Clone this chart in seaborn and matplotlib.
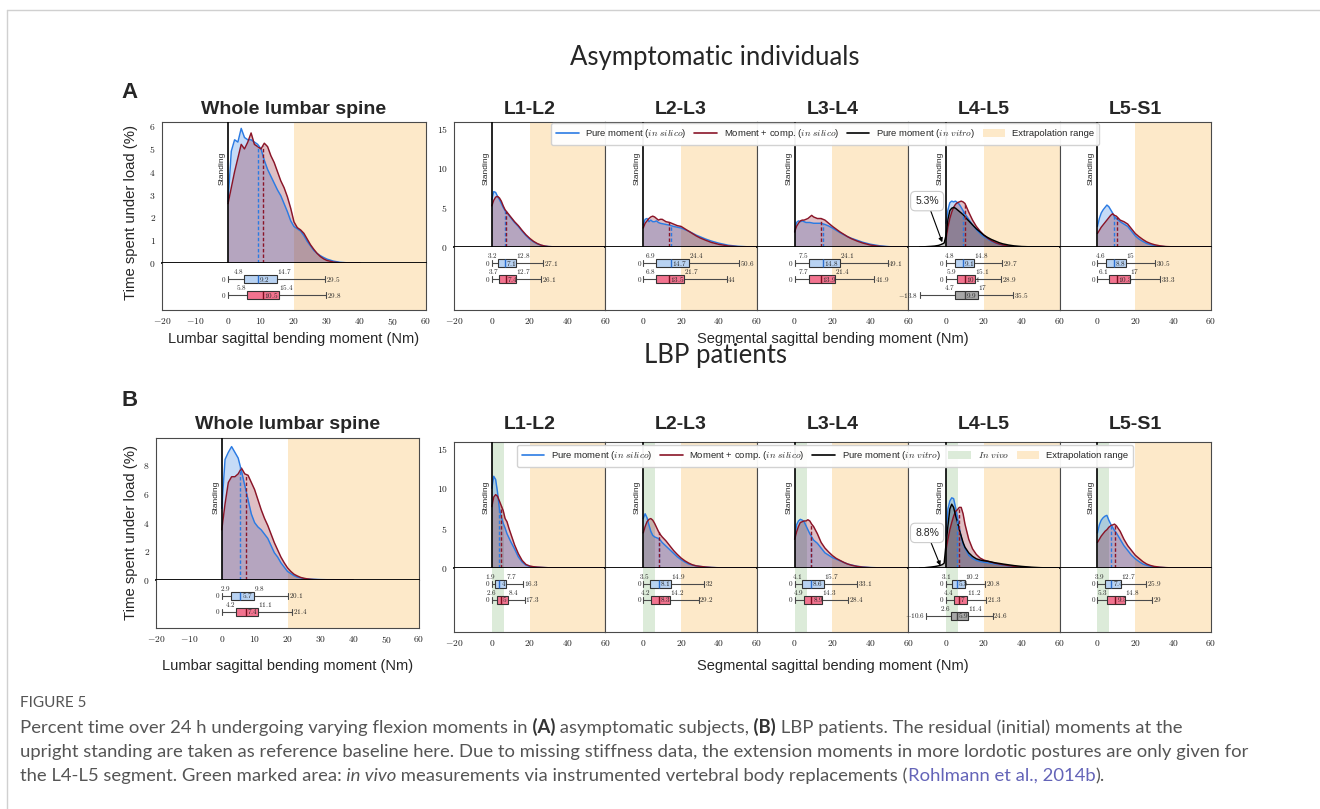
import numpy as np
import matplotlib
matplotlib.use("Agg")
import matplotlib.pyplot as plt
import matplotlib.transforms as mtransforms
from matplotlib.lines import Line2D
from matplotlib.patches import Patch
from matplotlib.ticker import FuncFormatter, FixedLocator
import seaborn as sns

sns.set_theme(style="white")
plt.rcParams["font.family"] = ["Liberation Sans", "DejaVu Sans"]
plt.rcParams["mathtext.fontset"] = "cm"

# ------------------------------------------------------------------ data
segments = ["L1-L2", "L2-L3", "L3-L4", "L4-L5", "L5-S1"]

x_whole = list(range(0, 31)) + [32, 34, 36, 38, 40]
x_seg = [0, 1, 2, 3, 4, 5, 6, 7, 8, 9, 10, 12, 14, 16, 18, 20, 22, 24, 26, 28, 30, 33, 36, 40, 45, 50, 55, 60]
x_vitro = [-14, -12, -10, -8, -6, -4, -3, -2, -1] + x_seg

# Whole lumbar spine, asymptomatic (A)
A_whole_pure = [2.7, 4.9, 5.4, 5.3, 5.9, 5.5, 5.4, 5.4, 5.3, 5.2, 5.0, 4.5, 4.1, 3.8, 3.5, 3.2, 2.95, 2.6,
                2.25, 1.85, 1.6, 1.5, 1.4, 1.2, 0.95, 0.75, 0.55, 0.42, 0.32, 0.24, 0.17, 0.08, 0.03, 0.01, 0, 0]
A_whole_comp = [2.6, 3.3, 4.0, 4.6, 5.2, 5.0, 5.3, 5.7, 5.2, 5.1, 5.0, 5.25, 5.1, 4.7, 4.4, 4.0, 3.6, 3.3,
                2.9, 2.4, 1.8, 1.55, 1.45, 1.3, 1.05, 0.8, 0.6, 0.42, 0.28, 0.18, 0.11, 0.04, 0.01, 0, 0, 0]
# Whole lumbar spine, LBP patients (B)
B_whole_pure = [5.0, 8.4, 8.9, 9.3, 8.9, 8.5, 7.6, 6.6, 5.6, 4.6, 4.0, 3.7, 3.5, 3.2, 2.9, 2.4, 1.9, 1.6,
                1.2, 0.9, 0.6, 0.45, 0.3, 0.2, 0.15, 0.1, 0.08, 0.06, 0.05, 0.04, 0.03, 0.02, 0.02, 0.01, 0.01, 0]
B_whole_comp = [3.5, 5.3, 6.8, 7.2, 7.2, 7.4, 7.8, 7.4, 7.3, 6.8, 6.3, 5.6, 4.9, 4.3, 3.8, 3.2, 2.6, 2.1,
                1.6, 1.2, 0.85, 0.6, 0.4, 0.28, 0.18, 0.12, 0.08, 0.05, 0.03, 0.02, 0.01, 0, 0, 0, 0, 0]

# Segmental curves, asymptomatic (A)
A_L1L2_pure = [6.0, 7.0, 6.9, 6.4, 6.0, 5.5, 5.0, 4.6, 4.3, 4.0, 3.7, 3.1, 2.6, 2.0, 1.45, 1.0, 0.65, 0.4, 0.22, 0.12, 0.06, 0.02, 0.01, 0, 0, 0, 0, 0]
A_L1L2_comp = [5.2, 5.9, 6.3, 6.4, 6.2, 5.8, 5.2, 4.7, 4.4, 4.1, 3.8, 3.2, 2.7, 2.1, 1.55, 1.1, 0.72, 0.44, 0.24, 0.12, 0.05, 0.02, 0.01, 0, 0, 0, 0, 0]
A_L2L3_pure = [2.8, 3.5, 3.6, 3.2, 3.4, 3.2, 3.2, 3.3, 3.1, 3.0, 2.95, 2.85, 2.75, 2.6, 2.5, 2.4, 2.2, 2.0, 1.75, 1.5, 1.3, 1.0, 0.75, 0.48, 0.22, 0.09, 0.03, 0]
A_L2L3_comp = [2.4, 3.0, 3.3, 3.6, 3.8, 3.9, 3.8, 3.6, 3.4, 3.5, 3.5, 3.2, 3.1, 2.9, 2.7, 2.6, 2.3, 2.0, 1.7, 1.4, 1.15, 0.85, 0.58, 0.33, 0.13, 0.04, 0.01, 0]
A_L3L4_pure = [1.9, 3.1, 3.3, 3.2, 3.3, 3.2, 3.1, 3.1, 3.1, 3.05, 3.0, 3.0, 3.0, 2.85, 2.65, 2.4, 2.1, 1.8, 1.55, 1.3, 1.1, 0.85, 0.6, 0.35, 0.15, 0.04, 0.01, 0]
A_L3L4_comp = [1.9, 2.6, 3.0, 3.3, 3.4, 3.4, 3.5, 3.6, 3.8, 4.0, 3.8, 3.6, 3.6, 3.4, 3.0, 2.6, 2.25, 1.9, 1.6, 1.3, 1.05, 0.75, 0.5, 0.25, 0.08, 0.01, 0, 0]
A_L4L5_pure = [3.0, 4.7, 5.6, 5.8, 5.7, 5.8, 5.6, 5.4, 5.0, 4.6, 4.2, 3.5, 2.8, 2.2, 1.7, 1.3, 1.0, 0.7, 0.5, 0.35, 0.25, 0.12, 0.05, 0.02, 0, 0, 0, 0]
A_L4L5_comp = [1.0, 2.5, 3.6, 4.4, 5.0, 5.4, 5.6, 5.7, 5.8, 5.7, 5.5, 4.4, 3.4, 2.6, 2.0, 1.5, 1.1, 0.8, 0.55, 0.38, 0.25, 0.12, 0.05, 0.01, 0, 0, 0, 0]
A_L4L5_vitro = [0, 0.02, 0.05, 0.08, 0.12, 0.2, 0.28, 0.38, 0.5,
                1.5, 3.5, 4.6, 4.9, 5.0, 4.9, 4.7, 4.5, 4.3, 4.1, 3.8, 3.3, 2.8, 2.3, 1.9, 1.5, 1.2, 0.95, 0.75, 0.55, 0.4, 0.25, 0.14, 0.06, 0.02, 0, 0, 0]
A_L5S1_pure = [2.6, 3.6, 4.3, 4.7, 5.0, 5.3, 5.1, 4.7, 4.3, 3.8, 3.6, 3.2, 2.9, 2.6, 2.0, 1.4, 1.0, 0.7, 0.45, 0.3, 0.18, 0.09, 0.04, 0.01, 0, 0, 0, 0]
A_L5S1_comp = [1.7, 2.1, 2.5, 2.8, 3.1, 3.4, 3.7, 4.0, 4.2, 4.0, 3.9, 3.4, 3.2, 2.9, 2.3, 1.7, 1.3, 0.95, 0.65, 0.45, 0.3, 0.15, 0.06, 0.02, 0, 0, 0, 0]

# Segmental curves, LBP patients (B)
B_L1L2_pure = [10.0, 11.5, 11.1, 9.5, 7.4, 6.4, 5.6, 5.0, 4.3, 3.8, 3.3, 2.4, 1.4, 0.75, 0.35, 0.2, 0.14, 0.1, 0.07, 0.05, 0.03, 0.02, 0.01, 0, 0, 0, 0, 0]
B_L1L2_comp = [7.7, 8.9, 9.2, 9.0, 8.4, 7.8, 7.2, 6.2, 5.8, 5.0, 4.3, 2.9, 1.8, 0.95, 0.45, 0.25, 0.16, 0.11, 0.08, 0.05, 0.03, 0.02, 0.01, 0, 0, 0, 0, 0]
B_L2L3_pure = [6.2, 6.8, 6.3, 5.4, 4.6, 4.1, 3.9, 3.8, 3.7, 3.5, 3.2, 2.75, 2.3, 1.85, 1.4, 1.05, 0.75, 0.5, 0.36, 0.26, 0.2, 0.12, 0.07, 0.03, 0.01, 0, 0, 0]
B_L2L3_comp = [4.4, 5.2, 5.8, 6.1, 6.2, 6.0, 5.6, 5.1, 4.6, 4.2, 3.9, 3.4, 2.8, 2.2, 1.7, 1.25, 0.9, 0.62, 0.4, 0.27, 0.2, 0.12, 0.06, 0.02, 0, 0, 0, 0]
B_L3L4_pure = [3.6, 5.4, 5.9, 6.1, 6.0, 5.8, 5.3, 4.8, 4.3, 3.9, 3.5, 3.1, 2.5, 1.9, 1.6, 1.3, 1.1, 0.9, 0.7, 0.5, 0.38, 0.22, 0.13, 0.06, 0.02, 0.01, 0, 0]
B_L3L4_comp = [3.6, 4.5, 5.2, 5.7, 5.8, 5.9, 5.9, 6.05, 5.9, 5.5, 5.2, 4.3, 3.2, 2.5, 2.0, 1.55, 1.2, 0.95, 0.7, 0.5, 0.35, 0.2, 0.1, 0.04, 0.01, 0, 0, 0]
B_L4L5_pure = [4.0, 7.4, 8.4, 8.8, 8.7, 7.6, 6.4, 5.0, 3.9, 3.0, 2.5, 1.6, 1.2, 0.95, 0.82, 0.72, 0.65, 0.58, 0.5, 0.42, 0.36, 0.27, 0.18, 0.1, 0.04, 0.01, 0, 0]
B_L4L5_comp = [2.3, 3.6, 4.8, 5.7, 6.5, 7.1, 7.3, 7.6, 7.6, 6.8, 5.5, 3.6, 2.4, 1.7, 1.25, 1.0, 0.85, 0.72, 0.6, 0.5, 0.42, 0.3, 0.2, 0.1, 0.04, 0.01, 0, 0]
B_L4L5_vitro = [0, 0.02, 0.07, 0.12, 0.18, 0.27, 0.33, 0.42, 0.6,
                3.0, 5.3, 7.4, 8.0, 7.6, 6.6, 5.8, 4.8, 4.0, 3.2, 2.6, 1.9, 1.45, 1.15, 1.0, 0.9, 0.85, 0.75, 0.65, 0.58, 0.5, 0.4, 0.3, 0.2, 0.1, 0.04, 0.01, 0]
B_L5S1_pure = [4.4, 5.4, 6.0, 6.3, 6.5, 6.6, 6.0, 5.5, 5.1, 4.7, 4.4, 3.6, 2.8, 2.2, 1.6, 1.15, 0.8, 0.5, 0.33, 0.22, 0.15, 0.08, 0.04, 0.01, 0, 0, 0, 0]
B_L5S1_comp = [3.2, 3.6, 4.0, 4.3, 4.6, 4.8, 5.1, 5.3, 5.4, 5.5, 5.3, 4.6, 3.6, 2.8, 2.2, 1.6, 1.2, 0.8, 0.5, 0.32, 0.2, 0.1, 0.05, 0.01, 0, 0, 0, 0]

# Box statistics: [min, Q1, median, Q3, max]
A_whole_box_pure = [0, 4.8, 9.2, 14.7, 29.5]
A_whole_box_comp = [0, 5.8, 10.5, 15.4, 29.8]
B_whole_box_pure = [0, 2.9, 5.7, 9.8, 20.1]
B_whole_box_comp = [0, 4.2, 7.4, 11.1, 21.4]

A_box_pure = [[0, 3.2, 7.1, 12.8, 27.1], [0, 6.9, 14.7, 24.4, 50.6], [0, 7.5, 14.8, 24.1, 49.1],
              [0, 4.8, 9.1, 14.8, 29.7], [0, 4.6, 8.8, 15, 30.5]]
A_box_comp = [[0, 3.7, 7.4, 12.7, 26.1], [0, 6.8, 13.5, 21.7, 44], [0, 7.7, 13.9, 21.4, 41.9],
              [0, 5.9, 10.1, 15.1, 28.9], [0, 6.1, 10.3, 17, 33.3]]
A_box_vitro_L4L5 = [-13.8, 4.7, 9.9, 17, 35.5]
B_box_pure = [[0, 1.9, 4, 7.7, 16.3], [0, 3.5, 8.1, 14.9, 32], [0, 4.1, 8.6, 15.7, 33.1],
              [0, 3.1, 5.8, 10.2, 20.8], [0, 3.9, 7.4, 12.7, 25.9]]
B_box_comp = [[0, 2.6, 5, 8.4, 17.3], [0, 4.2, 8.3, 14.2, 29.2], [0, 4.9, 8.9, 14.3, 28.4],
              [0, 4.4, 7, 11.2, 21.3], [0, 5.3, 9.5, 14.8, 29]]
B_box_vitro_L4L5 = [-10.6, 2.6, 5.9, 11.4, 24.6]

extension_share = {"A": "5.3%", "B": "8.8%"}
extrapolation_range = [20, 60]
in_vivo_range = [0, 6.3]

panel_titles = {"A": "Asymptomatic individuals", "B": "LBP patients"}

# ------------------------------------------------------------------ style
C_PURE = "#2b7be3"
C_COMP = "#8a1528"
C_VITRO = "#000000"
C_EXTRA = "#fde9c9"
C_VIVO = "#dcebd9"
BOX_FACE = {"pure": "#b8d2f2", "comp": "#f2738f", "vitro": "#a7a7a7"}
BOX_MED = {"pure": "#2b6fd0", "comp": "#7a1020", "vitro": "#444444"}
CURVE_C = {"pure": C_PURE, "comp": C_COMP, "vitro": C_VITRO}

W, H = 1320, 809
fig = plt.figure(figsize=(W / 100, H / 100), dpi=100)
fig.patch.set_facecolor("white")


def rect(l, t, r, b):
    return [l / W, 1 - b / H, (r - l) / W, (b - t) / H]


cm_fmt = FuncFormatter(lambda v, p: "$%g$" % v)


def style_axes(ax):
    for s in ax.spines.values():
        s.set_color("#4a4a4a")
        s.set_linewidth(0.8)
    ax.tick_params(colors="#4a4a4a", labelcolor="#222222", labelsize=6.9, length=3, width=0.6, pad=1.5)
    ax.xaxis.set_major_formatter(cm_fmt)
    ax.yaxis.set_major_formatter(cm_fmt)


def make_pair(l, t, r, mid, b, sharey=None):
    ax_h = fig.add_axes(rect(l, t, r, mid), sharey=sharey)
    ax_b = fig.add_axes(rect(l, mid, r, b), sharex=ax_h)
    for ax in (ax_h, ax_b):
        style_axes(ax)
        ax.set_xlim(-20, 60)
    ax_h.spines["bottom"].set_color("black")
    ax_h.spines["bottom"].set_linewidth(1.3)
    ax_h.spines["bottom"].set_zorder(6)
    ax_b.spines["top"].set_visible(False)
    ax_h.tick_params(axis="x", bottom=False, labelbottom=False)
    ax_b.tick_params(axis="y", left=False, labelleft=False)
    ax_b.set_ylim((b - mid) / 16.0, 0)
    return ax_h, ax_b


def bands(axs, vivo):
    for ax in axs:
        ax.axvspan(*extrapolation_range, color=C_EXTRA, lw=0, zorder=0)
        if vivo:
            ax.axvspan(*in_vivo_range, color=C_VIVO, lw=0, zorder=0)


def draw_curves(ax, curves, stand_frac):
    for x, y, kind, med in curves:
        c = CURVE_C[kind]
        ax.fill_between(x, 0, y, color=c, alpha=0.27 if kind != "vitro" else 0.22, lw=0, zorder=1)
    for x, y, kind, med in curves:
        c = CURVE_C[kind]
        sns.lineplot(x=x, y=y, ax=ax, color=c, linewidth=1.05, estimator=None, sort=False,
                     legend=False, zorder=3 if kind == "vitro" else 2)
    for x, y, kind, med in curves:
        if med is None:
            continue
        ax.plot([med, med], [0, float(np.interp(med, x, y))], ls=(0, (2.5, 1.5)),
                color=CURVE_C[kind], lw=1.0, zorder=4)
    ax.axvline(0, color="black", lw=1.2, zorder=5)
    tr = mtransforms.blended_transform_factory(ax.transData, ax.transAxes)
    ax.annotate("Standing", xy=(0, stand_frac), xycoords=tr, xytext=(-1.8, 0),
                textcoords="offset points", rotation=90, ha="right", va="center", fontsize=6)
    ax.set_xlabel("")
    ax.set_ylabel("")


def draw_boxes(ax, boxes):
    stats = [dict(whislo=s[0], q1=s[1], med=s[2], q3=s[3], whishi=s[4], fliers=[]) for s, k in boxes]
    pos = list(range(1, len(boxes) + 1))
    bp = ax.bxp(stats, positions=pos, widths=0.46, orientation="horizontal", patch_artist=True,
                showfliers=False, manage_ticks=False, capwidths=0.34,
                whiskerprops=dict(color="#4a4a4a", lw=0.8), capprops=dict(color="#4a4a4a", lw=0.8))
    for patch, (s, k) in zip(bp["boxes"], boxes):
        patch.set_facecolor(BOX_FACE[k])
        patch.set_edgecolor("#333333")
        patch.set_linewidth(0.8)
        patch.set_zorder(3)
    for ml, (s, k) in zip(bp["medians"], boxes):
        ml.set_color(BOX_MED[k])
        ml.set_linewidth(1.0)
        ml.set_zorder(4)
    fs = 5.2
    for p, (s, k) in zip(pos, boxes):
        top = p - 0.27
        ax.annotate("$%g$" % s[0], xy=(s[0], p), xytext=(-1, 0), textcoords="offset points",
                    ha="right", va="center", fontsize=fs, zorder=6)
        ax.annotate("$%g$" % s[1], xy=(s[1], top), xytext=(0, 2.3), textcoords="offset points",
                    ha="right", va="center", fontsize=fs, zorder=6)
        ax.annotate("$%g$" % s[2], xy=(s[2], p), xytext=(0.8, 0), textcoords="offset points",
                    ha="left", va="center", fontsize=fs, zorder=6)
        ax.annotate("$%g$" % s[3], xy=(s[3], top), xytext=(0, 2.3), textcoords="offset points",
                    ha="left", va="center", fontsize=fs, zorder=6)
        ax.annotate("$%g$" % s[4], xy=(s[4], p), xytext=(0.6, 0), textcoords="offset points",
                    ha="left", va="center", fontsize=fs, zorder=6)


# ------------------------------------------------------------------ layout (pixels)
GEOM = {
    "A": dict(whole=(162, 122, 426, 263, 310), seg=(454, 1211, 122, 247, 310),
              panel_letter=(130, 92), title=(715, 58), sub_title_y=110,
              ylab=(131, 212), xlab_y=339, whole_ylim=6.18, whole_ticks=[0, 1, 2, 3, 4, 5, 6],
              stand_whole=0.67, stand_seg=0.63, legend_y=134,
              annot_xy=(-2, 0.6), annot_text=(-10, 5.8)),
    "B": dict(whole=(156, 438, 419, 580, 628), seg=(454, 1211, 442, 568, 632),
              panel_letter=(130, 401), title=(715, 356), sub_title_y=424,
              ylab=(131, 533), xlab_y=666, whole_ylim=9.9, whole_ticks=[0, 2, 4, 6, 8],
              stand_whole=0.58, stand_seg=0.56, legend_y=456,
              annot_xy=(-3, 0.3), annot_text=(-10, 4.4)),
}

data = {
    "A": dict(whole=(A_whole_pure, A_whole_comp, A_whole_box_pure, A_whole_box_comp),
              seg_pure=[A_L1L2_pure, A_L2L3_pure, A_L3L4_pure, A_L4L5_pure, A_L5S1_pure],
              seg_comp=[A_L1L2_comp, A_L2L3_comp, A_L3L4_comp, A_L4L5_comp, A_L5S1_comp],
              vitro=A_L4L5_vitro, box_pure=A_box_pure, box_comp=A_box_comp, box_vitro=A_box_vitro_L4L5),
    "B": dict(whole=(B_whole_pure, B_whole_comp, B_whole_box_pure, B_whole_box_comp),
              seg_pure=[B_L1L2_pure, B_L2L3_pure, B_L3L4_pure, B_L4L5_pure, B_L5S1_pure],
              seg_comp=[B_L1L2_comp, B_L2L3_comp, B_L3L4_comp, B_L4L5_comp, B_L5S1_comp],
              vitro=B_L4L5_vitro, box_pure=B_box_pure, box_comp=B_box_comp, box_vitro=B_box_vitro_L4L5),
}

for P in ["A", "B"]:
    g = GEOM[P]
    d = data[P]
    vivo = P == "B"

    # panel letter / title
    fig.text(g["panel_letter"][0] / W, 1 - g["panel_letter"][1] / H, P, fontsize=16, fontweight="bold",
             ha="center", va="center")
    fig.text(g["title"][0] / W, 1 - g["title"][1] / H, panel_titles[P], fontsize=18.5,
             family=["Lato", "DejaVu Sans"], ha="center", va="center")

    # ---- whole lumbar spine
    l, t, r, mid, b = g["whole"]
    ax_h, ax_b = make_pair(l, t, r, mid, b)
    bands([ax_h, ax_b], vivo=False)
    pure, comp, bxp_pure, bxp_comp = d["whole"]
    draw_curves(ax_h, [(x_whole, pure, "pure", bxp_pure[2]), (x_whole, comp, "comp", bxp_comp[2])],
                g["stand_whole"])
    ax_h.set_ylim(0, g["whole_ylim"])
    ax_h.yaxis.set_major_locator(FixedLocator(g["whole_ticks"]))
    ax_b.xaxis.set_major_locator(FixedLocator([-20, -10, 0, 10, 20, 30, 40, 50, 60]))
    draw_boxes(ax_b, [(bxp_pure, "pure"), (bxp_comp, "comp")])
    fig.text((l + r) / 2 / W, 1 - g["sub_title_y"] / H, "Whole lumbar spine", fontsize=14,
             fontweight="bold", ha="center", va="center")
    fig.text((l + r) / 2 / W, 1 - g["xlab_y"] / H, "Lumbar sagittal bending moment (Nm)",
             fontsize=10.5, ha="center", va="center")
    fig.text(g["ylab"][0] / W, 1 - g["ylab"][1] / H, "Time spent under load (%)", fontsize=10.7,
             rotation=90, ha="center", va="center")

    # ---- segments
    sl, sr, st, smid, sb = g["seg"]
    sw = (sr - sl) / len(segments)
    first = None
    for i, seg in enumerate(segments):
        l = sl + i * sw
        r = l + sw
        ax_h, ax_b = make_pair(l, st, r, smid, sb, sharey=first)
        bands([ax_h, ax_b], vivo=vivo)
        curves = [(x_seg, d["seg_pure"][i], "pure", d["box_pure"][i][2]),
                  (x_seg, d["seg_comp"][i], "comp", d["box_comp"][i][2])]
        boxes = [(d["box_pure"][i], "pure"), (d["box_comp"][i], "comp")]
        if seg == "L4-L5":
            curves.append((x_vitro, d["vitro"], "vitro", None))
            boxes.append((d["box_vitro"], "vitro"))
        draw_curves(ax_h, curves, g["stand_seg"])
        ax_h.set_ylim(0, 15.8)
        ax_h.yaxis.set_major_locator(FixedLocator([0, 5, 10, 15]))
        if first is None:
            first = ax_h
            ax_b.xaxis.set_major_locator(FixedLocator([-20, 0, 20, 40, 60]))
        else:
            ax_h.tick_params(axis="y", labelleft=False)
            ax_b.xaxis.set_major_locator(FixedLocator([0, 20, 40, 60]))
        draw_boxes(ax_b, boxes)
        if seg == "L4-L5":
            ax_h.annotate(extension_share[P], xy=g["annot_xy"], xytext=g["annot_text"],
                          fontsize=7.5, ha="center", va="center", zorder=8,
                          bbox=dict(boxstyle="round,pad=0.45", fc="white", ec="#cccccc", lw=0.8),
                          arrowprops=dict(arrowstyle="-|>", color="black", lw=0.8,
                                          mutation_scale=6, shrinkA=0, shrinkB=0))
        fig.text((l + r) / 2 / W, 1 - g["sub_title_y"] / H, seg, fontsize=14, fontweight="bold",
                 ha="center", va="center")
    fig.text((sl + sr) / 2 / W, 1 - g["xlab_y"] / H, "Segmental sagittal bending moment (Nm)",
             fontsize=10.5, ha="center", va="center")

    # ---- legend
    handles = [Line2D([], [], color=C_PURE, lw=1.2), Line2D([], [], color=C_COMP, lw=1.2),
               Line2D([], [], color=C_VITRO, lw=1.2)]
    labels = [r"Pure moment ($in\ silico$)", r"Moment + comp. ($in\ silico$)", r"Pure moment ($in\ vitro$)"]
    if vivo:
        handles.append(Patch(facecolor=C_VIVO, edgecolor="none"))
        labels.append(r"$In\ vivo$")
    handles.append(Patch(facecolor=C_EXTRA, edgecolor="none"))
    labels.append("Extrapolation range")
    fig.legend(handles, labels, loc="center", bbox_to_anchor=(825 / W, 1 - g["legend_y"] / H),
               ncol=len(handles), fontsize=6.8, frameon=True, fancybox=True, handlelength=2.4,
               handleheight=0.9, handletextpad=0.7, columnspacing=0.8, borderpad=0.5,
               edgecolor="#d0d0d0", framealpha=0.95)

# ------------------------------------------------------------------ frame & caption
fig.add_artist(Line2D([7 / W, 1], [1 - 10 / H, 1 - 10 / H], transform=fig.transFigure, color="#d0d0d0", lw=1))
fig.add_artist(Line2D([7 / W, 7 / W], [0, 1 - 10 / H], transform=fig.transFigure, color="#d0d0d0", lw=1))

cap_ax = fig.add_axes([0, 0, 1, 1], zorder=-5)
cap_ax.axis("off")
CAP_FONT = ["Lato", "DejaVu Sans"]
CAP_FS = 13.3
CAP_C = "#555555"
cap_ax.text(20 / W, 1 - 703 / H, "FIGURE 5", transform=fig.transFigure, fontsize=11,
            family=CAP_FONT, color=CAP_C, va="center", ha="left")

caption_lines = [
    [("Percent time over 24 h undergoing varying flexion moments in", "n"), (" (A)", "b"),
     (" asymptomatic subjects,", "n"), (" (B)", "b"),
     (" LBP patients. The residual (initial) moments at the", "n")],
    [("upright standing are taken as reference baseline here. Due to missing stiffness data, the extension "
      "moments in more lordotic postures are only given for", "n")],
    [("the L4-L5 segment. Green marked area:", "n"), (" in vivo", "i"),
     (" measurements via instrumented vertebral body replacements (", "n"),
     ("Rohlmann et al., 2014b", "link"), (").", "n")],
]
for line, y in zip(caption_lines, [733, 757, 781]):
    prev = None
    yf = 1 - y / H
    for txt, st in line:
        kw = dict(fontsize=CAP_FS, family=CAP_FONT, color=CAP_C, va="baseline", ha="left")
        if st == "b":
            kw["fontweight"] = "bold"
            kw["color"] = "#333333"
        elif st == "i":
            kw["fontstyle"] = "italic"
        elif st == "link":
            kw["color"] = "#6464b8"
        if prev is None:
            prev = cap_ax.text(20 / W, yf, txt, transform=fig.transFigure, **kw)
        else:
            prev = cap_ax.annotate(txt, xy=(1, yf), xycoords=(prev, "figure fraction"), **kw)

fig.savefig("out.png", dpi=100, facecolor="white")
